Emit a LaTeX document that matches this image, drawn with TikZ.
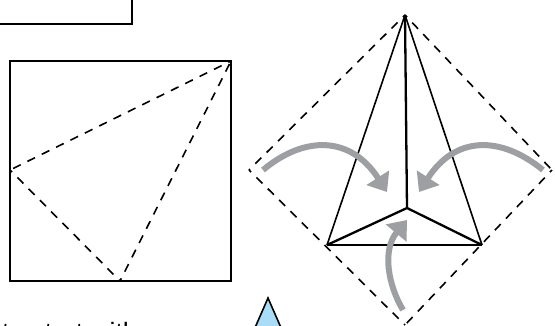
\documentclass[tikz,border=0pt]{standalone}
\usepackage{fontspec}
\setmainfont{Liberation Sans}
\usetikzlibrary{arrows.meta}
\definecolor{foldgray}{HTML}{9D9FA2}
\definecolor{paperblue}{HTML}{A9DDF7}

\begin{document}
\begin{tikzpicture}[
    x=1pt, y=-1pt,
    solid edge/.style={line width=2pt, color=black},
    thin edge/.style={line width=1.6pt, color=black},
    heavy edge/.style={line width=2.3pt, color=black},
    fold edge/.style={line width=1.6pt, color=black, dash pattern=on 8.5pt off 7.5pt, dash phase=5.5pt},
    fold arrow/.style={-{Triangle[length=17pt,width=26pt]}, line width=6pt, color=foldgray}
]
\useasboundingbox (0,0) rectangle (555,325);

% square sheet
\coordinate (sqtl) at (10,61);
\coordinate (sqtr) at (231,61);
\coordinate (sqbr) at (231,281);
\coordinate (sqbl) at (10,281);
\coordinate (sqleft) at (10,170);
\coordinate (sqbot) at (120,281);

\draw[solid edge] (sqtl) -- (sqtr) -- (sqbr) -- (sqbl) -- cycle;
\draw[fold edge] (sqtr) -- (sqleft);
\draw[fold edge] (sqleft) -- (sqbot);
\draw[fold edge] (sqbot) -- (sqtr);

% top box
\coordinate (boxr) at (132,0);
\coordinate (boxc) at (132,24);
\coordinate (boxl) at (0,24);
\draw[solid edge] (boxr) -- (boxc) -- (boxl);

% diamond
\coordinate (dtop) at (405,15);
\coordinate (dleft) at (249,170);
\coordinate (dright) at (552,170);
\coordinate (dbot) at (405,325);
\coordinate (fleft) at (327,245);
\coordinate (fright) at (482,245);
\coordinate (fmid) at (407,208);

\draw[fold edge] (dtop) -- (dleft);
\draw[fold edge] (dleft) -- (dbot);
\draw[fold edge] (dtop) -- (dright);
\draw[fold edge] (dright) -- (dbot);
\draw[thin edge] (dtop) -- (fleft);
\draw[thin edge] (dtop) -- (fright);
\draw[heavy edge] (fleft) -- (fright);
\draw[heavy edge] (dtop) -- (fmid);
\draw[heavy edge] (fleft) -- (fmid) -- (fright);

% fold arrows
\coordinate (al) at (263,170);
\coordinate (ale) at (387,192);
\coordinate (ar) at (543,170);
\coordinate (are) at (419,192);
\coordinate (ab) at (403,310);
\coordinate (abe) at (407,220);
\draw[fold arrow] (al) .. controls (305,135) and (351,136) .. (ale);
\draw[fold arrow] (ar) .. controls (500,135) and (455,136) .. (are);
\draw[fold arrow] (ab) .. controls (388,285) and (382,250) .. (abe);

% lower edge content
\node[anchor=base west, inner sep=0pt, font=\fontsize{26.5}{30}\selectfont] (lbl) at (2,341) {to start with};
\filldraw[fill=paperblue, draw=black, line width=1.6pt] (268,298) -- (254,330) -- (282,330) -- cycle;
\end{tikzpicture}
\end{document}
